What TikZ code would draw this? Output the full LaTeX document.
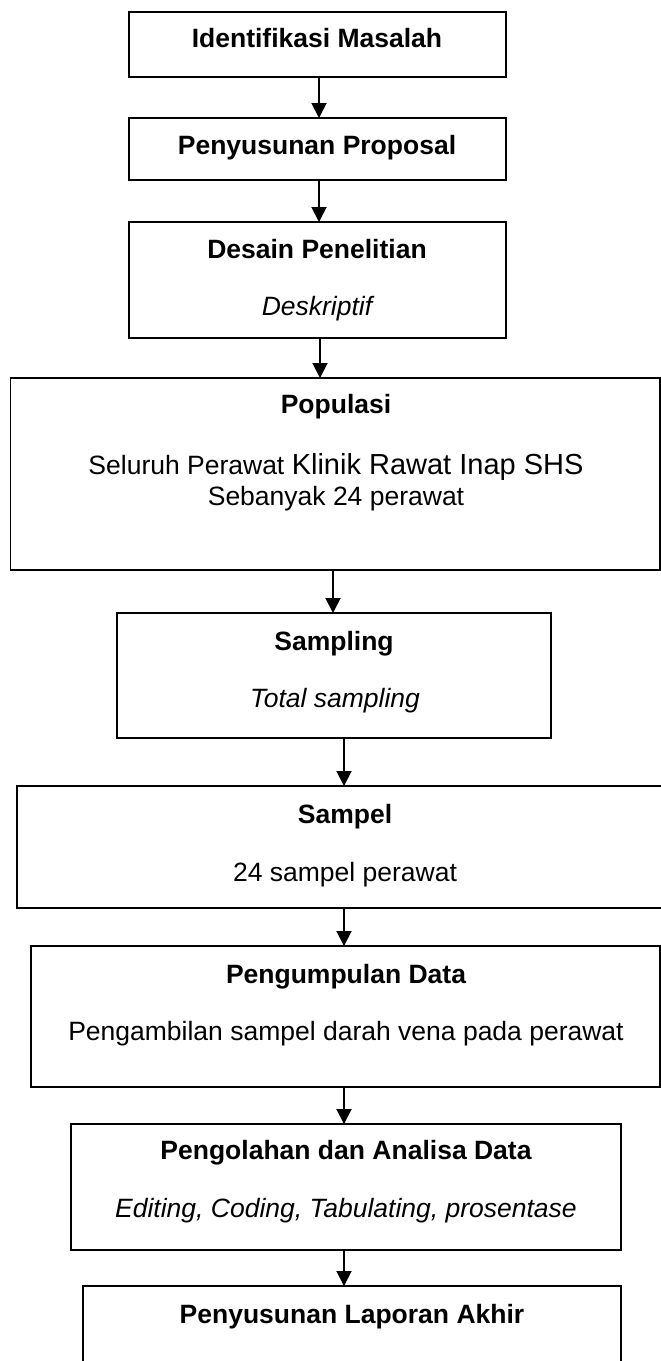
\documentclass[tikz,border=0pt]{standalone}
\usepackage{fontspec}
\setmainfont{Liberation Sans}
\usetikzlibrary{arrows.meta}
\begin{document}
\begin{tikzpicture}[x=1pt,y=-1pt,
  box/.style={draw, line width=1.8pt, inner sep=0pt, outer sep=0pt},
  txt/.style={anchor=base, inner sep=0pt, font=\fontsize{26.5}{31}\selectfont},
  ttl/.style={txt, font=\fontsize{26.5}{31}\selectfont\bfseries},
  itl/.style={txt, font=\fontsize{26.5}{31}\selectfont\itshape},
  arr/.style={line width=1.9pt, -{Triangle[length=15pt,width=15pt]}}]
\useasboundingbox (0,0) rectangle (661,1361);
\clip (0,0) rectangle (661,1361);
% boxes
\node[box, minimum width=377pt, minimum height=65pt] (b1) at (317.5,44.5) {};
\node[box, minimum width=377pt, minimum height=62pt] (b2) at (317.5,149) {};
\node[box, minimum width=377pt, minimum height=116pt] (b3) at (317.5,280) {};
\node[box, minimum width=649.5pt, minimum height=192pt] (b4) at (335.25,474) {};
\node[box, minimum width=434pt, minimum height=125pt] (b5) at (334,675.5) {};
\node[box, minimum width=656pt, minimum height=122pt] (b6) at (345,847) {};
\node[box, minimum width=629pt, minimum height=141pt] (b7) at (345.5,1016.5) {};
\node[box, minimum width=550pt, minimum height=126pt] (b8) at (346,1187) {};
\node[box, minimum width=538pt, minimum height=114pt] (b9) at (352,1343) {};
% texts
\node[ttl] (t1) at (317,47) {Identifikasi Masalah};
\node[ttl] (t2) at (317,154) {Penyusunan Proposal};
\node[ttl] (t3a) at (317,258) {Desain Penelitian};
\node[itl] (t3b) at (317,315) {Deskriptif};
\node[ttl] (t4a) at (336,413) {Populasi};
\node[txt] (t4b) at (336,474) {Seluruh Perawat {\fontsize{29}{31}\selectfont Klinik Rawat Inap SHS}};
\node[txt] (t4c) at (336,505) {Sebanyak 24 perawat};
\node[ttl] (t5a) at (334,650) {Sampling};
\node[itl] (t5b) at (335,707) {Total sampling};
\node[ttl] (t6a) at (345,823) {Sampel};
\node[txt] (t6b) at (345,881) {24 sampel perawat};
\node[ttl] (t7a) at (346,983) {Pengumpulan Data};
\node[txt] (t7b) at (346,1040) {Pengambilan sampel darah vena pada perawat};
\node[ttl] (t8a) at (346,1159) {Pengolahan dan Analisa Data};
\node[itl] (t8b) at (346,1217) {Editing, Coding, Tabulating, prosentase};
\node[ttl] (t9) at (352,1323) {Penyusunan Laporan Akhir};
% connectors
\draw[arr] ([xshift=1.5pt]b1.south) -- ([xshift=1.5pt]b1.south |- b2.north);
\draw[arr] ([xshift=1.5pt]b2.south) -- ([xshift=1.5pt]b2.south |- b3.north);
\draw[arr] ([xshift=2.5pt]b3.south) -- ([xshift=2.5pt]b3.south |- b4.north);
\draw[arr] ([xshift=-1pt]b5.north |- b4.south) -- ([xshift=-1pt]b5.north);
\draw[arr] ([xshift=10pt]b5.south) -- ([xshift=10pt]b5.south |- b6.north);
\draw[arr] ([xshift=-1pt]b6.south) -- ([xshift=-1pt]b6.south |- b7.north);
\draw[arr] ([xshift=-2pt]b8.north |- b7.south) -- ([xshift=-2pt]b8.north);
\draw[arr] ([xshift=-2pt]b8.south) -- ([xshift=-2pt]b8.south |- b9.north);
\end{tikzpicture}
\end{document}
